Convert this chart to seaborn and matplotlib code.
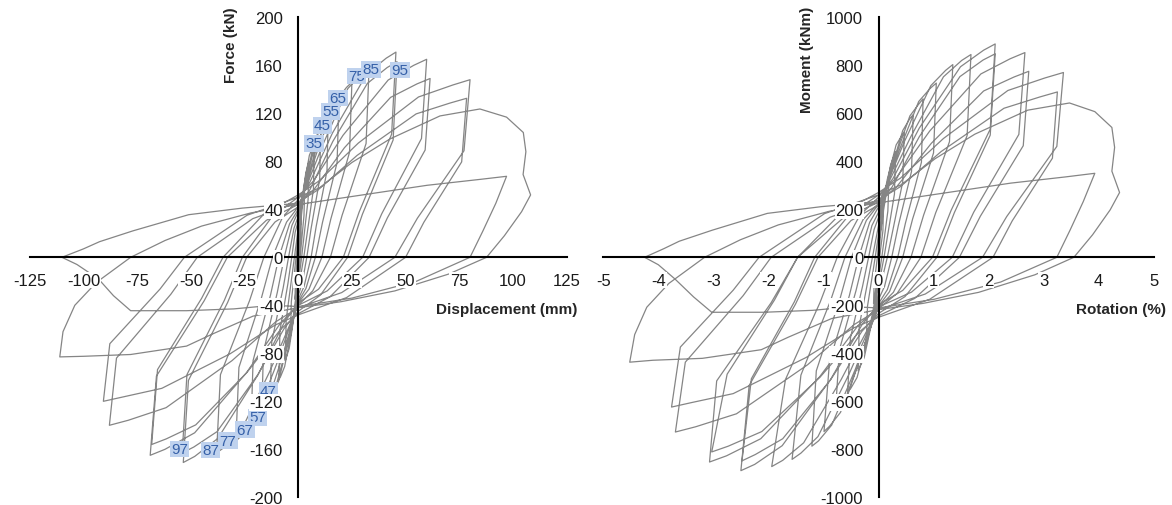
import matplotlib
matplotlib.use("Agg")
import matplotlib.pyplot as plt
import numpy as np
import seaborn as sns

# ---------------- data ----------------
# Left panel: lateral displacement (mm) / force (kN), cycles 1-9
disp_c1_9 = [
    0, 0.5, 1.0, 1.5, 1.3, 0.4, 0, -0.8, -1.5,
    -1.3, -0.4, 0, 1.2, 2.3, 3, 2.7, 0.9, 0, -1.3, -2.6, -3.5,
    -3.2, -1, 0, 1.8, 3.5, 5, 4.6, 1.6, 0, -2.1, -4.2, -6,
    -5.6, -1.8, 0, 2.6, 5.2, 6.8, 7.5, 7.1, 2.6, 0, -3.2, -6.3, -8.1, -9,
    -8.5, -4.8, -3, -1.4, 0, 3.7, 7.4, 9.5, 10.5, 10, 6, 4, 1.8, 0, -4.6, -9.1, -11.7, -13,
    -12.3, -7, -4.5, -2, 0, 4.9, 9.8, 12.6, 14, 13.4, 8.4, 6, 2.7, 0, -6, -11.9, -15.3, -17,
    -16.2, -9.7, -6.5, -2.9, 0, 6.7, 13.3, 17.1, 19, 18.1, 11.3, 8, 3.6, 0, -7.7, -15.4, -19.8, -22,
    -21, -12.9, -9, -4, 0, 8.75, 17.5, 22.5, 25, 23.9, 15.2, 11, 5, 0, -10.2, -20.3, -26.1, -29,
    -27.6, -17.1, -12, -5.4, 0, 11.55, 23.1, 29.7, 33, 31.6, 20.4, 15, 6.75, 0, -13.3, -26.6, -34.2, -38]
force_c1_9 = [
    0, 14, 26, 35, 20, 0, -10, -24, -35,
    -20, 0, 10, 30, 48, 58, 35, 0, -16, -36, -53, -62,
    -37, 0, 17, 45, 70, 80, 48, 0, -22, -51, -76, -86,
    -52, 0, 24, 59, 85, 92, 95, 57, 0, -28, -62, -91, -99, -102,
    -61, -22, 0, 21, 30, 65, 96, 105, 108, 65, 24, 0, -22, -32, -70, -103, -112.5, -116,
    -70, -25.5, 0, 24, 34, 72.7, 107, 116, 120, 72, 26, 0, -24.5, -35, -78.7, -117.5, -128, -132,
    -79, -29, 0, 26.6, 38, 80.3, 118, 128, 132, 79, 29, 0, -26, -37, -84.7, -127, -139, -143,
    -86, -31.5, 0, 28, 40, 87.7, 130, 141.6, 146, 87.6, 32, 0, -26.6, -38, -89.75, -135.75, -148.4, -153,
    -91.8, -33.7, 0, 29.4, 42, 94.2, 140.6, 153.3, 158, 94.8, 34.8, 0, -28, -40, -95.35, -144.55, -158.1, -163]

# cycles 10-15
disp_c10_15 = [
    -36.2, -22.6, -16, -7.2, 0, 5.5, 15.9, 31.85, 40.95, 45.5, 43.5, 28.35, 21, 9.45, 0, -6.4, -18.7, -37.45, -48.15, -53.5,
    -51.1, -32.85, -24, -10.8, 0, 5.5, 16.1, 32.2, 41.4, 46, 44.2, 29.9, 23, 10.35, 0, -6.5, -18.9, -37.8, -48.6, -54,
    -51.8, -34.4, -26, -11.7, 0, 7.2, 20.9, 41.9, 53.8, 59.8, 57.4, 38.9, 30, 13.5, 0, -8.3, -24.1, -48.2, -62, -68.9,
    -66, -43.8, -33, -14.85, 0, 7.4, 21.5, 43, 55.3, 61.4, 59.1, 41.5, 33, 14.85, 0, -8.2, -23.9, -47.7, -61.4, -68.2,
    -65.5, -45, -35, -15.75, 0, 9.6, 28, 56, 72, 80, 77.2, 55.5, 45, 20.25, 0, -10.5, -30.8, -61.5, -79.1, -87.9,
    -84.6, -59.3, -47, -21.15, 0, 9.4, 27.4, 54.9, 70.6, 78.4, 76.1, 58.5, 50, 22.5, 0, -10.9, -31.7, -63.5, -81.6, -90.7]
force_c10_15 = [
    -97.8, -35.9, 0, 33.6, 48, 62.8, 103.4, 152.6, 165.9, 171, 102.6, 37.6, 0, -26.6, -38, -54, -97.9, -151, -165.9, -171,
    -102.6, -37.6, 0, 29.4, 42, 56.5, 96.5, 144.9, 158.1, 163, 97.8, 35.9, 0, -31.5, -45, -59.2, -98.1, -145.3, -158.1, -163,
    -97.8, -35.9, 0, 35, 50, 63.8, 101.75, 147.75, 160, 165, 99, 36.3, 0, -28, -40, -55, -96.25, -146.25, -160, -165,
    -99, -36.3, 0, 30.8, 44, 56.6, 91.25, 133.25, 144.5, 149, 89.4, 32.8, 0, -32.9, -47, -60.1, -96, -139.65, -151.3, -156,
    -93.6, -34.3, 0, 36.4, 52, 63.5, 95.2, 133.6, 143.6, 148, 88.8, 32.6, 0, -29.4, -42, -53.8, -86.1, -125.3, -135.8, -140,
    -84, -30.8, 0, 32.2, 46, 56.4, 84.9, 119.5, 128.5, 132.5, 79.5, 29.2, 0, -33.6, -48, -56.6, -80.4, -109.2, -116.4, -120]

# cycles 16-17 and final reloading (strength degradation)
disp_c16_17 = [
    -87.7, -64.3, -53, -23.85, 0, 10, 25, 42.7, 66, 84.6, 97, 104.8, 106, 104.7, 108.2,
    104, 96, 87.7, 70, 45, 20, 0, -21, -40, -52, -78, -100, -111,
    -109.5, -104, -94, -78, -62, -45, -22, 0, 30, 60, 85, 97,
    92, 86, 80, 55, 25, 0, -12, -30, -52, -78, -86, -93, -103, -110,
    -100, -92.5, -77, -51, -26, 0]
force_c16_17 = [
    -72, -26.4, 0, 35, 50, 58, 79, 98.6, 117.8, 123.6, 116.8, 104, 88, 69, 52,
    38, 18, 0, -14, -28, -37, -42, -49, -64, -74, -81, -82.5, -83,
    -62, -40, -21, 0, 14, 26, 37, 44, 52, 60, 65, 67.5,
    45, 22, 0, -20, -34, -41, -40, -43, -44.5, -44.5, -32, -18, -6, 0,
    7, 13, 22, 35.5, 41, 45]

# Right panel: rotation (%) / moment (kNm)
rot_c1_9 = [
    0, 0.03, 0.06, 0.09, 0.08, 0.02, 0, -0.05, -0.09,
    -0.08, -0.02, 0, 0.07, 0.14, 0.19, 0.17, 0.06, 0, -0.08, -0.16, -0.22,
    -0.20, -0.06, 0, 0.11, 0.22, 0.31, 0.29, 0.10, 0, -0.13, -0.26, -0.37,
    -0.35, -0.11, 0, 0.16, 0.32, 0.42, 0.47, 0.44, 0.16, 0, -0.20, -0.39, -0.50, -0.56,
    -0.51, -0.29, -0.18, -0.08, 0, 0.22, 0.44, 0.57, 0.63, 0.60, 0.36, 0.24, 0.11, 0, -0.28, -0.55, -0.70, -0.78,
    -0.71, -0.41, -0.26, -0.12, 0, 0.28, 0.57, 0.73, 0.81, 0.78, 0.49, 0.35, 0.16, 0, -0.35, -0.69, -0.89, -0.99,
    -0.89, -0.53, -0.36, -0.16, 0, 0.37, 0.73, 0.94, 1.05, 1.00, 0.62, 0.44, 0.20, 0, -0.42, -0.85, -1.09, -1.21,
    -1.13, -0.70, -0.49, -0.22, 0, 0.47, 0.95, 1.22, 1.35, 1.29, 0.82, 0.59, 0.27, 0, -0.55, -1.10, -1.41, -1.57,
    -1.41, -0.87, -0.61, -0.28, 0, 0.59, 1.18, 1.51, 1.68, 1.61, 1.04, 0.77, 0.34, 0, -0.68, -1.36, -1.74, -1.94]
moment_c1_9 = [
    0, 77, 143, 193, 110, 0, -55, -132, -193,
    -110, 0, 55, 165, 264, 319, 193, 0, -88, -198, -292, -341,
    -204, 0, 94, 248, 385, 440, 264, 0, -121, -281, -418, -473,
    -286, 0, 132, 325, 468, 506, 523, 314, 0, -154, -341, -501, -545, -561,
    -336, -121, 0, 116, 165, 358, 528, 578, 594, 358, 132, 0, -121, -176, -385, -567, -619, -638,
    -385, -140, 0, 132, 187, 400, 589, 638, 660, 396, 143, 0, -135, -193, -433, -646, -704, -726,
    -435, -160, 0, 146, 209, 442, 649, 704, 726, 435, 160, 0, -143, -204, -466, -699, -765, -787,
    -473, -173, 0, 154, 220, 482, 715, 779, 803, 482, 176, 0, -146, -209, -494, -747, -816, -842,
    -491, -180, 0, 157, 225, 504, 752, 820, 845, 507, 186, 0, -150, -214, -510, -773, -846, -872]

rot_c10_15 = [
    -1.69, -1.06, -0.75, -0.34, 0, 0.26, 0.74, 1.49, 1.91, 2.12, 2.03, 1.32, 0.98, 0.44, 0, -0.30, -0.87, -1.75, -2.25, -2.50,
    -2.35, -1.51, -1.10, -0.50, 0, 0.25, 0.74, 1.48, 1.90, 2.12, 2.03, 1.38, 1.06, 0.48, 0, -0.30, -0.87, -1.74, -2.24, -2.48,
    -2.31, -1.53, -1.16, -0.52, 0, 0.32, 0.93, 1.86, 2.39, 2.66, 2.55, 1.73, 1.34, 0.60, 0, -0.37, -1.07, -2.14, -2.76, -3.07,
    -2.94, -1.95, -1.47, -0.66, 0, 0.33, 0.96, 1.91, 2.46, 2.73, 2.63, 1.85, 1.47, 0.66, 0, -0.36, -1.06, -2.12, -2.73, -3.03,
    -2.75, -1.89, -1.47, -0.66, 0, 0.40, 1.18, 2.35, 3.02, 3.36, 3.24, 2.33, 1.89, 0.85, 0, -0.44, -1.29, -2.58, -3.32, -3.69,
    -3.51, -2.46, -1.95, -0.88, 0, 0.39, 1.14, 2.28, 2.93, 3.25, 3.16, 2.43, 2.08, 0.93, 0, -0.45, -1.32, -2.64, -3.39, -3.76]
moment_c10_15 = [
    -509, -187, 0, 175, 250, 327, 538, 794, 863, 889, 534, 196, 0, -138, -198, -281, -509, -785, -863, -889,
    -534, -196, 0, 153, 218, 294, 502, 753, 822, 848, 509, 187, 0, -164, -234, -308, -510, -756, -822, -848,
    -506, -186, 0, 181, 259, 330, 526, 764, 827, 853, 512, 188, 0, -145, -207, -284, -498, -756, -827, -853,
    -515, -189, 0, 160, 229, 294, 475, 693, 751, 775, 465, 171, 0, -171, -244, -313, -499, -726, -787, -811,
    -487, -178, 0, 189, 270, 330, 495, 695, 747, 770, 462, 170, 0, -153, -218, -280, -448, -652, -706, -728,
    -437, -160, 0, 167, 239, 293, 441, 621, 668, 689, 413, 152, 0, -175, -250, -294, -418, -568, -605, -624]

rot_c16_17 = [
    -3.60, -2.64, -2.17, -0.98, 0, 0.41, 1.03, 1.75, 2.71, 3.47, 3.93, 4.24, 4.29, 4.24, 4.38,
    4.21, 3.89, 3.55, 2.84, 1.82, 0.81, 0, -0.85, -1.64, -2.13, -3.20, -4.10, -4.52,
    -4.43, -4.21, -3.81, -3.16, -2.51, -1.82, -0.89, 0, 1.20, 2.40, 3.40, 3.93,
    3.72, 3.48, 3.24, 2.22, 1.01, 0, -0.48, -1.20, -2.08, -3.03, -3.36, -3.70, -4.00, -4.25,
    -3.90, -3.62, -3.02, -2.02, -1.04, 0]
moment_c16_17 = [
    -374, -137, 0, 182, 260, 302, 411, 513, 613, 643, 607, 541, 458, 359, 270,
    198, 94, 0, -73, -146, -192, -218, -255, -333, -385, -421, -429, -437,
    -322, -208, -109, 0, 73, 135, 192, 227, 268, 309, 335, 350,
    232, 113, 0, -103, -175, -211, -206, -221, -229, -229, -165, -90, -31, 0,
    36, 67, 113, 183, 211, 232]

# data labels on the left panel
pos_label_text = ["35", "45", "55", "65", "75", "85", "95"]
pos_label_x = [7.3, 11.3, 15, 18.6, 27, 33.9, 47.4]
pos_label_y = [95, 110, 121.5, 132.6, 151, 156.5, 156]
neg_label_text = ["47", "57", "67", "77", "87", "97"]
neg_label_x = [-13.9, -19, -24.8, -32.7, -40.8, -55.4]
neg_label_y = [-111, -133.4, -143.6, -152.8, -160.4, -159.8]

# axes ticks
disp_ticks = [-125, -100, -75, -50, -25, 0, 25, 50, 75, 100, 125]
force_ticks = [-200, -160, -120, -80, -40, 0, 40, 80, 120, 160, 200]
rot_ticks = [-5, -4, -3, -2, -1, 0, 1, 2, 3, 4, 5]
moment_ticks = [-1000, -800, -600, -400, -200, 0, 200, 400, 600, 800, 1000]

# ---------------- drawing ----------------
sns.set_style("white")
plt.rcParams["font.family"] = ["Liberation Sans", "DejaVu Sans"]

W, H = 1172, 506
fig = plt.figure(figsize=(W / 100, H / 100), dpi=100)
axL = fig.add_axes([29.7 / W, (H - 498.3) / H, 537.0 / W, 480.0 / H])
axR = fig.add_axes([603.3 / W, (H - 498.3) / H, 550.4 / W, 480.0 / H])

line_color = "#858585"

def draw_loops(ax, xs, ys):
    x = np.concatenate([np.asarray(a, float) for a in xs])
    y = np.concatenate([np.asarray(a, float) for a in ys])
    sns.lineplot(x=x, y=y, sort=False, estimator=None, color=line_color,
                 linewidth=0.9, ax=ax, legend=False)

draw_loops(axL, [disp_c1_9, disp_c10_15, disp_c16_17],
           [force_c1_9, force_c10_15, force_c16_17])
draw_loops(axR, [rot_c1_9, rot_c10_15, rot_c16_17],
           [moment_c1_9, moment_c10_15, moment_c16_17])

def style_axes(ax, xticks, yticks, xlabel, ylabel, xlab_pos, ylab_pos):
    ax.set_xlim(xticks[0], xticks[-1])
    ax.set_ylim(yticks[0], yticks[-1])
    ax.set_facecolor("none")
    ax.set_axisbelow(False)
    for s in ("top", "right"):
        ax.spines[s].set_visible(False)
    ax.spines["left"].set_position(("data", 0))
    ax.spines["bottom"].set_position(("data", 0))
    for s in ("left", "bottom"):
        ax.spines[s].set_linewidth(1.5)
        ax.spines[s].set_color("black")
        ax.spines[s].set_zorder(2.5)
    ax.set_xticks(xticks)
    ax.set_yticks(yticks)
    ax.set_xticklabels([str(v) for v in xticks])
    ax.set_yticklabels([str(v) for v in yticks])
    ax.tick_params(axis="both", direction="inout", length=12, width=1.4,
                   color="black", labelsize=12, labelcolor="#1a1a1a", pad=5)
    ax.set_xlabel("")
    ax.set_ylabel("")
    ax.text(xlab_pos[0], xlab_pos[1], xlabel, transform=ax.transAxes,
            ha="right", va="center", fontsize=11, fontweight="bold")
    ax.text(ylab_pos[0], ylab_pos[1], ylabel, transform=ax.transAxes,
            ha="center", va="top", rotation=90, fontsize=11, fontweight="bold")

style_axes(axL, disp_ticks, force_ticks, "Displacement (mm)", "Force (kN)",
           ((577 - 29.7) / 537.0, (498.3 - 310) / 480.0),
           ((231 - 29.7) / 537.0, (498.3 - 7) / 480.0))
style_axes(axR, rot_ticks, moment_ticks, "Rotation (%)", "Moment (kNm)",
           ((1166 - 603.3) / 550.4, (498.3 - 310) / 480.0),
           ((807 - 603.3) / 550.4, (498.3 - 7) / 480.0))

label_box = dict(boxstyle="square,pad=0.08", facecolor="#bfd2ee", edgecolor="none")
for t, x, y in zip(pos_label_text + neg_label_text,
                   pos_label_x + neg_label_x, pos_label_y + neg_label_y):
    axL.text(x, y, t, ha="center", va="center", fontsize=11,
             color="#3560a8", bbox=label_box, zorder=2.2)

fig.canvas.draw()
for ax in (axL, axR):
    for lab in ax.get_xticklabels() + ax.get_yticklabels():
        lab.set_bbox(dict(facecolor="white", edgecolor="none", pad=0.6))

fig.savefig("out.png", dpi=100, facecolor="white")
